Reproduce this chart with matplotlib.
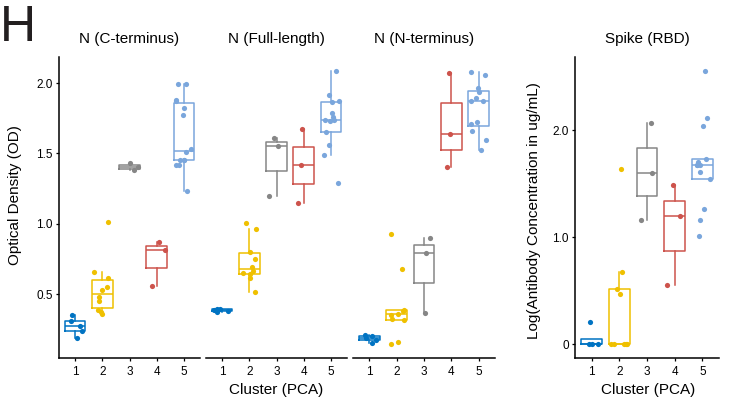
import numpy as np
import matplotlib
matplotlib.use("Agg")
import matplotlib.pyplot as plt

plt.rcParams['font.family'] = ['Liberation Sans', 'DejaVu Sans']

clusters = [1, 2, 3, 4, 5]
cluster_colors = ["#0073C2", "#EFC000", "#868686", "#CD534C", "#7AA6DC"]

# optical density per cluster, one list per antigen
n_c_terminus = [
    [0.19, 0.235, 0.275, 0.305, 0.35],
    [1.01, 0.654, 0.616, 0.552, 0.526, 0.478, 0.45, 0.386, 0.372, 0.36],
    [1.43, 1.40, 1.38],
    [0.87, 0.81, 0.56],
    [1.99, 1.99, 1.88, 1.87, 1.82, 1.77, 1.53, 1.51, 1.45, 1.45, 1.45, 1.42, 1.42, 1.23],
]
n_full_length = [
    [0.395, 0.39, 0.385, 0.38, 0.372],
    [1.007, 0.965, 0.80, 0.752, 0.69, 0.66, 0.652, 0.64, 0.616, 0.516],
    [1.61, 1.549, 1.20],
    [1.672, 1.42, 1.15],
    [2.088, 1.917, 1.869, 1.862, 1.79, 1.76, 1.738, 1.736, 1.73, 1.653, 1.556, 1.487, 1.288],
]
n_n_terminus = [
    [0.21, 0.20, 0.185, 0.175, 0.155],
    [0.93, 0.68, 0.384, 0.379, 0.36, 0.35, 0.32, 0.313, 0.158, 0.142],
    [0.901, 0.794, 0.362],
    [2.071, 1.641, 1.40],
    [2.08, 2.059, 1.965, 1.938, 1.893, 1.874, 1.874, 1.72, 1.708, 1.66, 1.598, 1.523],
]
# log antibody concentration (ug/mL)
spike_rbd = [
    [0.21, 0, 0, 0],
    [1.636, 0.676, 0.52, 0.474, 0, 0, 0, 0, 0],
    [2.065, 1.604, 1.159],
    [1.483, 1.196, 0.554],
    [2.555, 2.115, 2.037, 1.735, 1.70, 1.679, 1.673, 1.673, 1.61, 1.548, 1.259, 1.165, 1.009],
]

od_panels = [("N (C-terminus)", n_c_terminus),
             ("N (Full-length)", n_full_length),
             ("N (N-terminus)", n_n_terminus)]
od_ticks = [0.5, 1.0, 1.5, 2.0]
od_ticklabels = ["0.5", "1.0", "1.5", "2.0"]
rbd_ticks = [0, 1.0, 2.0]
rbd_ticklabels = ["0", "1.0", "2.0"]

W, H = 731, 401
rng = np.random.default_rng(7)


def px(x, y):
    return x / W, 1 - y / H


def draw_groups(ax, groups):
    for k, (vals, col) in enumerate(zip(groups, cluster_colors)):
        lw = 1.1
        ax.boxplot([vals], positions=[clusters[k]], widths=0.75, whis=1.5,
                   showfliers=False, showcaps=False, manage_ticks=False,
                   boxprops=dict(color=col, linewidth=lw),
                   medianprops=dict(color=col, linewidth=lw),
                   whiskerprops=dict(color=col, linewidth=lw),
                   zorder=2)
        jit = rng.uniform(-0.3, 0.3, len(vals))
        ax.scatter(np.full(len(vals), clusters[k]) + jit, vals, s=14,
                   color=col, linewidths=0, zorder=3)


def style_axis(ax, show_y):
    ax.set_xlim(0.4, 5.6)
    ax.set_xticks(clusters)
    ax.set_xticklabels([str(c) for c in clusters])
    for side in ["top", "right"]:
        ax.spines[side].set_visible(False)
    ax.spines["bottom"].set_linewidth(1.1)
    ax.spines["left"].set_linewidth(1.1)
    ax.tick_params(axis="both", length=2.5, width=0.9, labelsize=8.5,
                   colors="black", pad=2)
    ax.tick_params(axis="x", pad=3)
    if not show_y:
        ax.spines["left"].set_visible(False)
        ax.tick_params(axis="y", left=False, labelleft=False)


fig = plt.figure(figsize=(W / 100, H / 100), dpi=100)

bottom = (H - 358) / H
height = (358 - 57) / H
od_lefts = [(59, 141), (206, 141), (353, 142)]

for i, ((title, groups), (x0, w)) in enumerate(zip(od_panels, od_lefts)):
    ax = fig.add_axes([x0 / W, bottom, w / W, height])
    draw_groups(ax, groups)
    ax.set_ylim(0.045, 2.185)
    ax.set_yticks(od_ticks)
    ax.set_yticklabels(od_ticklabels)
    style_axis(ax, show_y=(i == 0))
    fig.text(*px(x0 + w / 2, 39), title, ha="center", va="center", fontsize=11)

ax4 = fig.add_axes([575 / W, bottom, 144 / W, height])
draw_groups(ax4, spike_rbd)
ax4.set_ylim(-0.128, 2.683)
ax4.set_yticks(rbd_ticks)
ax4.set_yticklabels(rbd_ticklabels)
style_axis(ax4, show_y=True)
fig.text(*px(647, 39), "Spike (RBD)", ha="center", va="center", fontsize=11)

fig.text(*px(15, 195), "Optical Density (OD)", rotation=90,
         ha="center", va="center", fontsize=11)
fig.text(*px(534, 211), "Log(Antibody Concentration in ug/mL)", rotation=90,
         ha="center", va="center", fontsize=11)
fig.text(*px(276, 390), "Cluster (PCA)", ha="center", va="center", fontsize=11)
fig.text(*px(648, 390), "Cluster (PCA)", ha="center", va="center", fontsize=11)

fig.text(*px(0, 28), "H", ha="left", va="center", fontsize=36, color="#231f20")

fig.savefig("out.png", dpi=100)
